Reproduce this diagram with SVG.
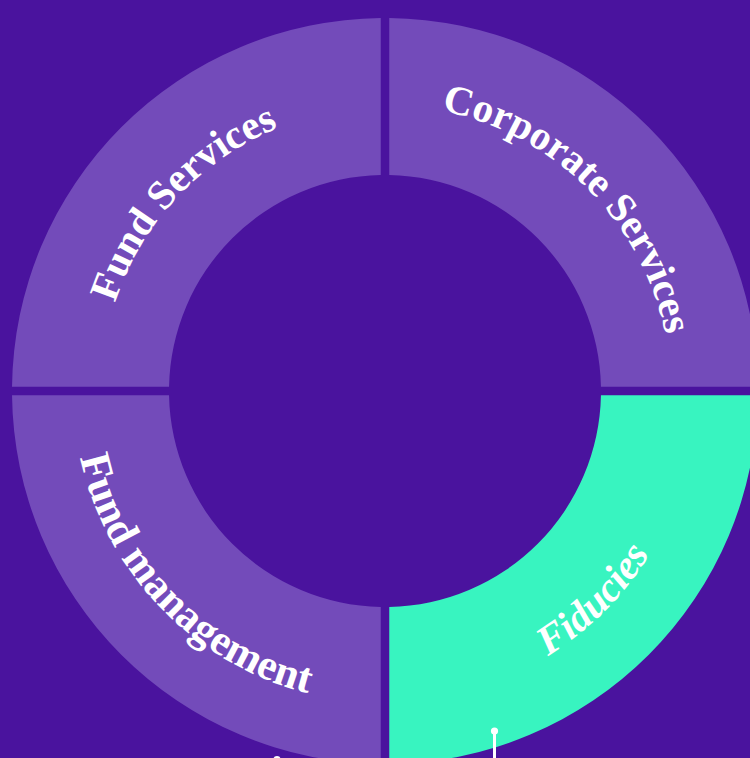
<svg xmlns="http://www.w3.org/2000/svg" xmlns:xlink="http://www.w3.org/1999/xlink" width="750" height="758" viewBox="0 0 750 758">
<style>
.seg{fill:#734BBA}
.seg-hi{fill:#38F4C0}
.lbl{font-family:"Liberation Serif","DejaVu Serif",serif;font-size:41px;font-weight:bold;fill:#FFFFFF}
.big{font-size:43px}
.it{font-style:italic}
.conn{stroke:#FFFFFF;stroke-width:3;fill:none}
.dot{fill:#FFFFFF}
</style>
<defs>
<path id="pFS" d="M 101.17 400.91 A 284 284 0 0 1 375.09 107.17"/>
<path id="pCS" d="M 385 105 A 286 286 0 0 1 671 391"/>
<path id="pFM" d="M 73.03 385.55 A 312 312 0 0 0 379.55 702.95"/>
<path id="pFI" d="M 385 702 A 311 311 0 0 0 696 391"/>
</defs>
<rect x="0" y="0" width="750" height="758" fill="#4A139E"/>
<g id="fund-services">
<path class="seg" d="M 12.02 386.75 A 373 373 0 0 1 380.75 18.02 L 380.75 175.04 A 216 216 0 0 0 169.04 386.75 Z"/>
<text class="lbl"><textPath xlink:href="#pFS" href="#pFS" startOffset="50%" text-anchor="middle">Fund Services</textPath></text>
</g>
<g id="corporate-services">
<path class="seg" d="M 389.25 18.02 A 373 373 0 0 1 757.98 386.75 L 600.96 386.75 A 216 216 0 0 0 389.25 175.04 Z"/>
<text class="lbl"><textPath xlink:href="#pCS" href="#pCS" startOffset="50%" text-anchor="middle">Corporate Services</textPath></text>
</g>
<g id="fund-management">
<path class="seg" d="M 380.75 763.98 A 373 373 0 0 1 12.02 395.25 L 169.04 395.25 A 216 216 0 0 0 380.75 606.96 Z"/>
<text class="lbl big"><textPath xlink:href="#pFM" href="#pFM" startOffset="50%" text-anchor="middle">Fund management</textPath></text>
</g>
<g id="fiducies">
<path class="seg-hi" d="M 757.98 395.25 A 373 373 0 0 1 389.25 763.98 L 389.25 606.96 A 216 216 0 0 0 600.96 395.25 Z"/>
<text class="lbl it"><textPath xlink:href="#pFI" href="#pFI" startOffset="50%" text-anchor="middle">Fiducies</textPath></text>
</g>
<g id="connectors">
<line class="conn" x1="494.5" y1="731" x2="494.5" y2="760"/>
<circle class="dot" cx="494.5" cy="731" r="3.6"/>
<line class="conn" x1="277" y1="759.5" x2="277" y2="770"/>
<circle class="dot" cx="277" cy="759.5" r="3.6"/>
</g>
</svg>
